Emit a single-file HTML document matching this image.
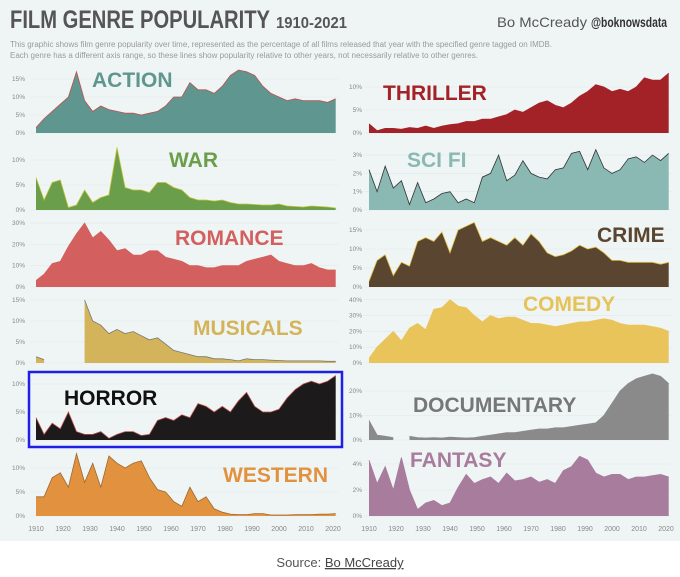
<!DOCTYPE html>
<html><head><meta charset="utf-8">
<style>
html,body{margin:0;padding:0;background:#fff;}
body{width:680px;height:572px;overflow:hidden;font-family:"Liberation Sans",sans-serif;}
</style></head>
<body>
<svg id="chart" width="680" height="572" viewBox="0 0 680 572" xmlns="http://www.w3.org/2000/svg" font-family="Liberation Sans, sans-serif">
<rect x="0" y="0" width="680" height="541" fill="#eff5f5"/>
<text x="10" y="28" font-size="25" font-weight="bold" fill="#555" textLength="260" lengthAdjust="spacingAndGlyphs">FILM GENRE POPULARITY</text>
<text x="276" y="28" font-size="16" font-weight="bold" fill="#555" textLength="71" lengthAdjust="spacingAndGlyphs">1910-2021</text>
<text x="497" y="27" font-size="14" fill="#555" textLength="90" lengthAdjust="spacingAndGlyphs">Bo McCready</text>
<text x="591" y="27" font-size="14" font-weight="bold" fill="#333" textLength="76" lengthAdjust="spacingAndGlyphs">@boknowsdata</text>
<text x="10" y="47" font-size="8" fill="#999" textLength="542" lengthAdjust="spacingAndGlyphs">This graphic shows film genre popularity over time, represented as the percentage of all films released that year with the specified genre tagged on IMDB.</text>
<text x="10" y="58" font-size="8" fill="#999" textLength="468" lengthAdjust="spacingAndGlyphs">Each genre has a different axis range, so these lines show popularity relative to other years, not necessarily relative to other genres.</text>
<g id="panels"></g>
<rect x="29" y="372" width="313" height="75" fill="none" stroke="#1f1fe6" stroke-width="2.5"/>
<g id="xaxis"></g>
<text x="340" y="567" font-size="13" fill="#555" text-anchor="middle">Source: <tspan text-decoration="underline" fill="#444">Bo McCready</tspan></text>
</svg>
<script>
const years = [1910,1913,1916,1919,1922,1925,1928,1931,1934,1937,1940,1943,1946,1949,1952,1955,1958,1961,1964,1967,1970,1973,1976,1979,1982,1985,1988,1991,1994,1997,2000,2003,2006,2009,2012,2015,2018,2021];
const xTickLabels = [1910,1920,1930,1940,1950,1960,1970,1980,1990,2000,2010,2020];
const action = [1.5,4,6,8,10,17,9,6,7.5,6.5,6,5.5,5.5,5,5.5,6,7.5,10,10,14,12,12,11,13,16,17.5,17,16,13,11,10,9,9.5,9,9,9,8.5,9.5];
const thriller = [2,0.5,1,1,0.8,1.2,1,1.5,1,1.5,1.8,2,2.5,2.5,3,3,3.5,4,5,4.5,5.5,6.5,7,6,5.5,6.5,8,9,10.5,10,9,9.5,9,10,12,11.5,11.5,13];
const war = [6.5,2,5.5,6,0.5,1,4,1.5,2.5,3,12.5,4.5,4,4,3.5,5.5,5.5,4.5,4,2.5,2,2,1.8,2,1.5,1.2,1.2,1.1,1,1,1.2,0.8,0.7,0.6,0.8,0.7,0.6,0.4];
const scifi = [2.2,1.0,2.4,1.2,1.6,0.3,1.5,0.4,0.6,0.9,1.0,0.4,0.6,0.4,1.8,2.0,3.0,1.6,1.9,2.7,2.0,1.8,1.7,2.2,2.3,3.1,3.2,2.2,3.3,2.3,2.0,2.2,2.8,2.9,2.6,3.0,2.7,3.1];
const romance = [3,6,11,12,19,25,30,23,26,22,17,18,15,15,17,17,14,13,12,10,10,9,9,10,10,10,12,13,14,15,12,11,10,10,11,9,8,8];
const crime = [1.5,7,8.5,3,6.5,5.5,12,13,12,14.5,9,15,16,17,12,13,12,11,13,11,14,12,9,8,8.5,9.5,11,10,10.5,9,7,7,6.5,6.5,6.5,6.5,6,6.5];
const musicals = [1.5,0.8,null,null,null,null,15,10,9,7,8,7,7.5,6.5,5.5,6,4.5,3,2.5,2,1.5,1.5,1,1,0.8,0.5,1,0.8,0.8,0.7,0.6,0.5,0.5,0.5,0.5,0.5,0.4,0.4];
const comedy = [3,10,15,20,14,22,25,21,34,35,40,36,35,30,26,30,28,29,29,27,25,25,24,23,24,25,26,26,27,28,27,25,24,24,24,23,22,20];
const horror = [4,1,3,2,5,1.5,1,1,1.5,0.3,1,1.5,1.5,0.8,1,3.5,4,3.5,4.5,4,6.5,6,5,6,5,7,8.5,6,5,5,5.5,7.5,9,10,10.5,10,10.5,11.5];
const documentary = [8,2,1.5,1,null,1.5,1,0.8,1,0.8,1.2,1,0.8,1,1.5,2,2.5,3,3,3.5,4,4.5,4.5,5,5,5.5,6,6.5,7,10,15,20,23,25,26,27,26,23];
const western = [4,4,8,9,6,13,7,11,6,12.5,11,10,11,11.5,8,5.5,5,3,2,6,3,4,1.5,0.8,0.4,0.3,0.3,0.5,0.5,0.2,0.2,0.2,0.3,0.3,0.3,0.4,0.4,0.5];
const fantasy = [4.3,2.5,3.8,2,4.5,2,0.5,1,1.2,0.8,1,2.2,3.2,2.5,2.8,3,2.5,3.3,2.7,2.8,3,2.6,2.8,2.5,3.5,3.8,4.6,4.3,3.3,3,3.2,3.2,2.8,3,3,3.1,3.2,3];
const ticksAction = [0,5,10,15];
const ticksThriller = [0,5,10];
const ticksWar = [0,5,10];
const ticksScifi = [0,1,2,3];
const ticksRomance = [0,10,20,30];
const ticksCrime = [0,5,10,15];
const ticksMusicals = [0,5,10,15];
const ticksComedy = [0,10,20,30,40];
const ticksHorror = [0,5,10];
const ticksDocumentary = [0,10,20];
const ticksWestern = [0,5,10];
const ticksFantasy = [0,2,4];

const NS = 'http://www.w3.org/2000/svg';
const panelsG = document.getElementById('panels');
const axisG = document.getElementById('xaxis');
function xScale(side, yr){ return (side==='L'?36:369) + (yr-1910)*2.7; }
const panels = [
 {id:'action',label:'ACTION',data:action,ticks:ticksAction,side:'L',base:133,k:3.6,fill:'#5f9690',stroke:'#c0504d',tc:'#5f9690',tx:92,ty:87},
 {id:'thriller',label:'THRILLER',data:thriller,ticks:ticksThriller,side:'R',base:133,k:4.6,fill:'#a32228',stroke:'#a32228',tc:'#a32228',tx:383,ty:100},
 {id:'war',label:'WAR',data:war,ticks:ticksWar,side:'L',base:210,k:5,fill:'#6a9e4a',stroke:'#c9c23a',tc:'#6a9e4a',tx:169,ty:167},
 {id:'scifi',label:'SCI FI',data:scifi,ticks:ticksScifi,side:'R',base:210,k:18.3,fill:'#8ab8b3',stroke:'#333',tc:'#8ab8b3',tx:407,ty:167},
 {id:'romance',label:'ROMANCE',data:romance,ticks:ticksRomance,side:'L',base:287,k:2.13,fill:'#d35f5f',stroke:'#d35f5f',tc:'#d35f5f',tx:175,ty:245},
 {id:'crime',label:'CRIME',data:crime,ticks:ticksCrime,side:'R',base:287,k:3.8,fill:'#5a4530',stroke:'#e0c040',tc:'#5a4530',tx:597,ty:242},
 {id:'musicals',label:'MUSICALS',data:musicals,ticks:ticksMusicals,side:'L',base:363,k:4.2,fill:'#d4b45a',stroke:'#777',tc:'#d4b45a',tx:193,ty:335},
 {id:'comedy',label:'COMEDY',data:comedy,ticks:ticksComedy,side:'R',base:363,k:1.58,fill:'#e8c45a',stroke:'#e8c45a',tc:'#e6c35a',tx:523,ty:311},
 {id:'horror',label:'HORROR',data:horror,ticks:ticksHorror,side:'L',base:440,k:5.6,fill:'#1c1a1a',stroke:'#c0504d',tc:'#111',tx:64,ty:405},
 {id:'documentary',label:'DOCUMENTARY',data:documentary,ticks:ticksDocumentary,side:'R',base:440,k:2.45,fill:'#8a8a8a',stroke:'#8a8a8a',tc:'#777',tx:413,ty:412},
 {id:'western',label:'WESTERN',data:western,ticks:ticksWestern,side:'L',base:516,k:4.8,fill:'#e2923f',stroke:'#9a6a30',tc:'#e2923f',tx:223,ty:482},
 {id:'fantasy',label:'FANTASY',data:fantasy,ticks:ticksFantasy,side:'R',base:516,k:13,fill:'#a87c9c',stroke:'#a87c9c',tc:'#a87c9c',tx:410,ty:467}
];
panels.forEach(p=>{
  const g = document.createElementNS(NS,'g');
  
  
  const x0 = xScale(p.side,1908), x1 = xScale(p.side,2022);
  p.ticks.forEach(t=>{
    const y = p.base - t*p.k;
    const gl = document.createElementNS(NS,'line');
    
    
    gl.setAttribute('x1',x0); gl.setAttribute('x2',x1); gl.setAttribute('y1',y); gl.setAttribute('y2',y);
    gl.setAttribute('stroke','#e2e8e8'); gl.setAttribute('stroke-width','0.6');
    g.appendChild(gl);
    const tl = document.createElementNS(NS,'text');
    
    
    tl.setAttribute('x', p.side==='L'?25:362); tl.setAttribute('y', y+2);
    tl.setAttribute('text-anchor','end'); tl.setAttribute('font-size','6.5'); tl.setAttribute('fill','#888');
    tl.textContent = t+'%';
    g.appendChild(tl);
  });
  // segments split on nulls
  let segs=[], cur=[];
  p.data.forEach((v,i)=>{ if(v===null){ if(cur.length) segs.push(cur); cur=[]; } else cur.push([xScale(p.side,years[i]), p.base - v*p.k]); });
  if(cur.length) segs.push(cur);
  segs.forEach(s=>{
    let d = 'M'+s[0][0]+','+p.base+' '+s.map(q=>'L'+q[0].toFixed(1)+','+q[1].toFixed(1)).join(' ')+' L'+s[s.length-1][0]+','+p.base+' Z';
    const a = document.createElementNS(NS,'path');
    
    
    a.setAttribute('d',d); a.setAttribute('fill',p.fill);
    g.appendChild(a);
    const l = document.createElementNS(NS,'path');
    
    
    l.setAttribute('d','M'+s.map(q=>q[0].toFixed(1)+','+q[1].toFixed(1)).join(' L'));
    l.setAttribute('fill','none'); l.setAttribute('stroke',p.stroke); l.setAttribute('stroke-width','0.8');
    g.appendChild(l);
  });
  const tt = document.createElementNS(NS,'text');
  
  
  tt.setAttribute('x',p.tx); tt.setAttribute('y',p.ty);
  tt.setAttribute('font-size','21'); tt.setAttribute('font-weight','bold'); tt.setAttribute('fill',p.tc);
  tt.textContent = p.label;
  g.appendChild(tt);
  panelsG.appendChild(g);
});
['L','R'].forEach(side=>{
  xTickLabels.forEach(yr=>{
    const t = document.createElementNS(NS,'text');
    
    
    t.setAttribute('x', xScale(side,yr)); t.setAttribute('y', 531);
    t.setAttribute('text-anchor','middle'); t.setAttribute('font-size','7'); t.setAttribute('fill','#888');
    t.textContent = yr;
    axisG.appendChild(t);
  });
});
</script>
</body></html>
